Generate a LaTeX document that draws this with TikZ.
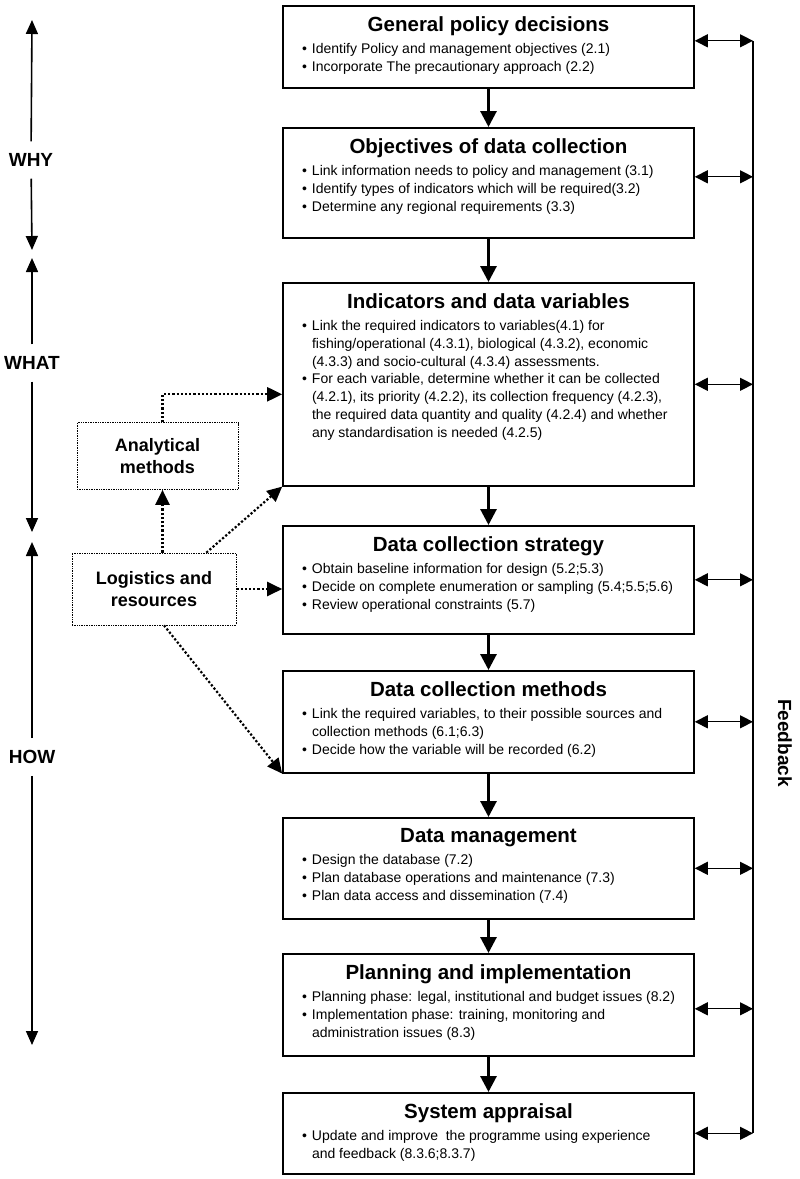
\documentclass[tikz,border=0pt]{standalone}
\usepackage{fontspec}
\setmainfont{Liberation Sans}
\usetikzlibrary{arrows.meta}

\newcommand{\stagetitle}[1]{{\centering\bfseries\fontsize{20.5}{23}\selectfont #1\par}\vspace{4pt}}
\newcommand{\bul}{\par\noindent\hangindent=10pt\hangafter=1\makebox[10pt][l]{\textbullet}}
\newcommand{\stagetext}[2]{\parbox[t][#1][t]{373pt}{\raggedright\fontsize{14}{17.8}\selectfont #2}}

\begin{document}
\begin{tikzpicture}[
    x=1pt, y=-1pt,
    stage/.style={rectangle, draw, line width=1.6pt, inner xsep=19pt, inner ysep=11pt, anchor=north},
    helper/.style={rectangle, draw, densely dotted, line width=0.7pt, align=center,
                  font=\bfseries\fontsize{18}{22}\selectfont},
    side/.style={font=\bfseries\fontsize{19}{22}\selectfont, inner sep=12pt},
    flow/.style={-{Triangle[length=16pt,width=16pt]}, line width=3pt},
    feed/.style={{Triangle[length=13pt,width=13pt]}-{Triangle[length=13pt,width=13pt]}, line width=1.3pt},
    link/.style={-{Triangle[length=15pt,width=14pt]}, dotted, line width=2.2pt},
    axis/.style={-{Triangle[length=14pt,width=12pt]}, line width=1.6pt}
]
    \useasboundingbox (0,0) rectangle (800,1179);

    % Stages
    \node[stage] (policy) at (488.5,5) {\stagetext{60pt}{\stagetitle{General policy decisions}
        \bul Identify Policy and management objectives (2.1)
        \bul Incorporate The precautionary approach (2.2)}};
    \node[stage] (objectives) at (488.5,127) {\stagetext{88pt}{\stagetitle{Objectives of data collection}
        \bul Link information needs to policy and management (3.1)
        \bul Identify types of indicators which will be required(3.2)
        \bul Determine any regional requirements (3.3)}};
    \node[stage] (indicators) at (488.5,282) {\stagetext{181pt}{\stagetitle{Indicators and data variables}
        \bul Link the required indicators to variables(4.1) for\newline
        fishing/operational (4.3.1), biological (4.3.2), economic\newline
        (4.3.3) and socio-cultural (4.3.4) assessments.
        \bul For each variable, determine whether it can be collected\newline
        (4.2.1), its priority (4.2.2), its collection frequency (4.2.3),\newline
        the required data quantity and quality (4.2.4) and whether\newline
        any standardisation is needed (4.2.5)}};
    \node[stage] (strategy) at (488.5,525) {\stagetext{86pt}{\stagetitle{Data collection strategy}
        \bul Obtain baseline information for design (5.2;5.3)
        \bul Decide on complete enumeration or sampling (5.4;5.5;5.6)
        \bul Review operational constraints (5.7)}};
    \node[stage] (methods) at (488.5,670) {\stagetext{80pt}{\stagetitle{Data collection methods}
        \bul Link the required variables, to their possible sources and\newline
        collection methods (6.1;6.3)
        \bul Decide how the variable will be recorded (6.2)}};
    \node[stage] (management) at (488.5,817) {\stagetext{79pt}{\stagetitle{Data management}
        \bul Design the database (7.2)
        \bul Plan database operations and maintenance (7.3)
        \bul Plan data access and dissemination (7.4)}};
    \node[stage] (planning) at (488.5,953) {\stagetext{80pt}{\stagetitle{Planning and implementation}
        \bul Planning phase: legal, institutional and budget issues (8.2)
        \bul Implementation phase: training, monitoring and\newline
        administration issues (8.3)}};
    \node[stage] (appraisal) at (488.5,1092) {\stagetext{59pt}{\stagetitle{System appraisal}
        \bul Update and improve\ \ the programme using experience\newline
        and feedback (8.3.6;8.3.7)}};

    % Side boxes
    \node[helper, minimum width=161pt, minimum height=67pt] (analytical) at (157.5,456) {Analytical\\methods};
    \node[helper, minimum width=164pt, minimum height=72pt] (logistics) at (154,589) {Logistics and\\resources};

    % Main flow
    \draw[flow] (policy) -- (objectives);
    \draw[flow] (objectives) -- (indicators);
    \draw[flow] (indicators) -- (strategy);
    \draw[flow] (strategy) -- (methods);
    \draw[flow] (methods) -- (management);
    \draw[flow] (management) -- (planning);
    \draw[flow] (planning) -- (appraisal);

    % Dotted links
    \draw[link] ([xshift=5pt]analytical.north) |- ([yshift=-10pt]indicators.west);
    \draw[link] ([xshift=5pt]logistics.north -| analytical.south) -- ([xshift=5pt]analytical.south);
    \draw[link] ([xshift=-30pt]logistics.north east) -- (indicators.south west);
    \draw[link] (logistics) -- (logistics -| strategy.west);
    \draw[link] ([xshift=10pt]logistics.south) -- (methods.south west);

    % Feedback
    \coordinate (fb) at (753,0);
    \draw[feed] ([yshift=6pt]policy.east) -- ([yshift=6pt]policy.east -| fb);
    \draw[feed] ([yshift=6pt]objectives.east) -- ([yshift=6pt]objectives.east -| fb);
    \draw[feed] (indicators.east) -- (indicators.east -| fb);
    \draw[feed] (strategy.east) -- (strategy.east -| fb);
    \draw[feed] (methods.east) -- (methods.east -| fb);
    \draw[feed] (management.east) -- (management.east -| fb);
    \draw[feed] ([yshift=-4pt]planning.east) -- ([yshift=-4pt]planning.east -| fb);
    \draw[feed] (appraisal.east) -- (appraisal.east -| fb);
    \draw[line width=1.3pt] ([yshift=6pt]policy.east -| fb) -- (appraisal.east -| fb);
    \node[side, rotate=-90] (feedback) at (785,743) {Feedback};

    % Why / what / how
    \coordinate (whytop) at (32,20);
    \coordinate (whybot) at (32,250);
    \coordinate (whattop) at (32,258);
    \coordinate (whatbot) at (32,532);
    \coordinate (howtop) at (32,542);
    \coordinate (howbot) at (32,1045);
    \node[side] (why) at (31,160) {WHY};
    \node[side] (what) at (32,363) {WHAT};
    \node[side] (how) at (32,757) {HOW};
    \draw[axis] (why) -- (whytop);
    \draw[axis] (why) -- (whybot);
    \draw[axis] (what) -- (whattop);
    \draw[axis] (what) -- (whatbot);
    \draw[axis] (how) -- (howtop);
    \draw[axis] (how) -- (howbot);
\end{tikzpicture}
\end{document}
